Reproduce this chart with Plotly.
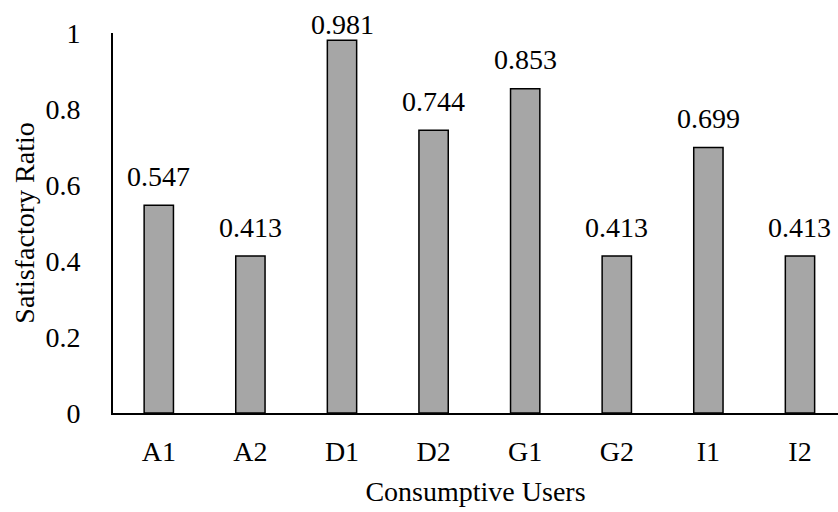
import plotly.graph_objects as go

users = ["A1", "A2", "D1", "D2", "G1", "G2", "I1", "I2"]
ratios = [0.547, 0.413, 0.981, 0.744, 0.853, 0.413, 0.699, 0.413]
y_ticks = [0, 0.2, 0.4, 0.6, 0.8, 1]
y_tick_text = ["0", "0.2", "0.4", "0.6", "0.8", "1"]

FONT = "Liberation Serif, Times New Roman, serif"
SIZE = 28

W, H = 838, 512
M_TOP, M_BOT = 33, 99
PLOT_H = H - M_TOP - M_BOT  # pixels spanned by y in [0, 1]

xs = list(range(len(users)))

fig = go.Figure(
    go.Bar(
        x=xs,
        y=ratios,
        width=0.32,
        marker=dict(color="#A6A6A6", line=dict(color="black", width=1.5)),
        hoverinfo="x+y",
    )
)

# value labels above each bar; pulled down near the top so they stay on the page
for x, v in zip(xs, ratios):
    shift = min(29, (1 - v) * PLOT_H + 8)
    fig.add_annotation(
        x=x, y=v, text=f"{v:.3f}", showarrow=False,
        yanchor="middle", yshift=shift,
        font=dict(family=FONT, size=SIZE, color="black"),
    )

fig.update_layout(
    width=W,
    height=H,
    margin=dict(l=113, r=0, t=M_TOP, b=M_BOT),
    plot_bgcolor="white",
    paper_bgcolor="white",
    showlegend=False,
    font=dict(family=FONT, size=SIZE, color="black"),
)

fig.update_xaxes(
    tickmode="array",
    tickvals=xs,
    ticktext=users,
    range=[-0.5, 7.415],
    showline=True,
    linecolor="black",
    linewidth=2,
    ticks="",
    showgrid=False,
    zeroline=False,
    tickfont=dict(family=FONT, size=SIZE),
    ticklabelstandoff=12,
    title=dict(text="Consumptive Users", font=dict(family=FONT, size=SIZE), standoff=16),
)

fig.update_yaxes(
    range=[0, 1],
    tickmode="array",
    tickvals=y_ticks,
    ticktext=y_tick_text,
    showline=True,
    linecolor="black",
    linewidth=2,
    ticks="",
    showgrid=False,
    zeroline=False,
    tickfont=dict(family=FONT, size=SIZE),
    ticklabelstandoff=25,
    title=dict(text="Satisfactory Ratio", font=dict(family=FONT, size=SIZE), standoff=3),
)

fig.write_html("out.html")
